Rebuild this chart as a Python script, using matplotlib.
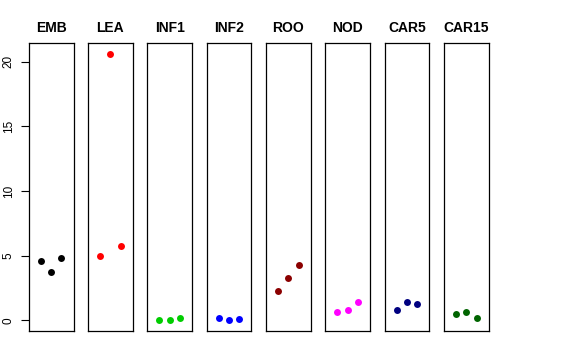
import matplotlib
matplotlib.use("Agg")
import matplotlib.pyplot as plt

plt.rcParams["font.family"] = ["Liberation Sans", "DejaVu Sans"]

tissues = ["EMB", "LEA", "INF1", "INF2", "ROO", "NOD", "CAR5", "CAR15"]
colors = ["black", "red", "#00CD00", "blue", "#8B0000", "magenta", "#000080", "#006400"]

emb = [4.56, 3.76, 4.84]
lea = [4.97, 20.62, 5.72]
inf1 = [0.02, 0.05, 0.18]
inf2 = [0.18, 0.0, 0.08]
roo = [2.27, 3.27, 4.30]
nod = [0.67, 0.77, 1.39]
car5 = [0.77, 1.39, 1.28]
car15 = [0.49, 0.67, 0.15]

values = [emb, lea, inf1, inf2, roo, nod, car5, car15]
reps = [1, 2, 3]

fig = plt.figure(figsize=(5.76, 3.6), dpi=100)

left = 28.7 / 576
width = 44.8 / 576
step = 59.3 / 576
bottom = 1 - 331 / 360
height = 288 / 360

for i, name in enumerate(tissues):
    ax = fig.add_axes([left + i * step, bottom, width, height])
    ax.plot(reps, values[i], "o", color=colors[i], markersize=5, markeredgewidth=0)
    ax.set_xlim(-0.17, 4.17)
    ax.set_ylim(-0.83, 21.45)
    ax.set_xticks([])
    for s in ax.spines.values():
        s.set_linewidth(0.9)
    ax.set_title(name, fontsize=10, fontweight="bold", pad=8)
    if i == 0:
        ax.set_yticks([0, 5, 10, 15, 20])
        ax.tick_params(axis="y", labelsize=8.5, length=6, width=0.8, pad=4, labelrotation=90)
        for lbl in ax.get_yticklabels():
            lbl.set_va("center")
    else:
        ax.set_yticks([])

fig.savefig("out.png", dpi=100)
